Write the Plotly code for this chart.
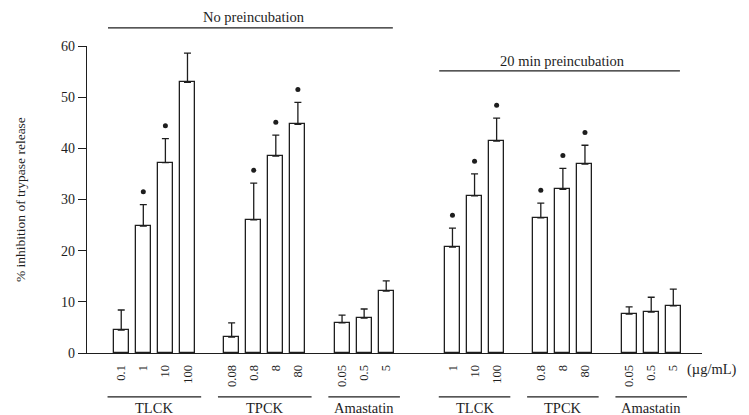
import plotly.graph_objects as go

# ---------------- data ----------------
panel_titles = ["No preincubation", "20 min preincubation"]

# left panel (no preincubation)
L_tlck_doses = ["0.1", "1", "10", "100"]
L_tlck_vals = [4.5, 24.8, 37.2, 52.9]
L_tlck_errs = [3.9, 4.2, 4.7, 5.7]
L_tlck_sig = [False, True, True, True]

L_tpck_doses = ["0.08", "0.8", "8", "80"]
L_tpck_vals = [3.1, 26.0, 38.5, 44.7]
L_tpck_errs = [2.8, 7.2, 4.1, 4.3]
L_tpck_sig = [False, True, True, True]

L_ama_doses = ["0.05", "0.5", "5"]
L_ama_vals = [5.9, 6.8, 12.1]
L_ama_errs = [1.5, 1.8, 2.0]
L_ama_sig = [False, False, False]

# right panel (20 min preincubation)
R_tlck_doses = ["1", "10", "100"]
R_tlck_vals = [20.7, 30.7, 41.4]
R_tlck_errs = [3.7, 4.3, 4.5]
R_tlck_sig = [True, True, True]

R_tpck_doses = ["0.8", "8", "80"]
R_tpck_vals = [26.4, 32.0, 36.9]
R_tpck_errs = [2.9, 4.1, 3.7]
R_tpck_sig = [True, True, True]

R_ama_doses = ["0.05", "0.5", "5"]
R_ama_vals = [7.6, 8.0, 9.2]
R_ama_errs = [1.4, 2.9, 3.3]
R_ama_sig = [False, False, False]

group_names = ["TLCK", "TPCK", "Amastatin"]
unit_label = "(µg/mL)"
y_title = "% inhibition of trypase release"
y_ticks = [0, 10, 20, 30, 40, 50, 60]

panels = [
    [(L_tlck_doses, L_tlck_vals, L_tlck_errs, L_tlck_sig),
     (L_tpck_doses, L_tpck_vals, L_tpck_errs, L_tpck_sig),
     (L_ama_doses, L_ama_vals, L_ama_errs, L_ama_sig)],
    [(R_tlck_doses, R_tlck_vals, R_tlck_errs, R_tlck_sig),
     (R_tpck_doses, R_tpck_vals, R_tpck_errs, R_tpck_sig),
     (R_ama_doses, R_ama_vals, R_ama_errs, R_ama_sig)],
]

# ---------------- layout of slots ----------------
INK = "#1e1e1e"
FONT = "Liberation Serif"
STAR_GAP = 2.5   # data units between error cap and significance dot

xs, vals, errs, labels, sigs = [], [], [], [], []
group_spans = []   # (panel, group index, first x, last x)
panel_spans = []
pos = 0
for p, groups in enumerate(panels):
    if p > 0:
        pos += 2
    p_start = pos
    for g, (d, v, e, s) in enumerate(groups):
        if g > 0:
            pos += 1
        start = pos
        for i in range(len(d)):
            xs.append(pos)
            vals.append(v[i])
            errs.append(e[i])
            labels.append(d[i])
            sigs.append(s[i])
            pos += 1
        group_spans.append((p, g, start, pos - 1))
    panel_spans.append((p_start, pos - 1))

fig = go.Figure()
fig.add_trace(go.Bar(
    x=xs, y=vals, width=0.68,
    marker=dict(color="white", line=dict(color=INK, width=1.3)),
    error_y=dict(type="data", array=errs, arrayminus=[0] * len(errs),
                 symmetric=False, color=INK, thickness=1.3, width=3.5),
    showlegend=False, hoverinfo="skip",
))

sx = [x for x, s in zip(xs, sigs) if s]
sy = [v + e + STAR_GAP for v, e, s in zip(vals, errs, sigs) if s]
fig.add_trace(go.Scatter(
    x=sx, y=sy, mode="markers",
    marker=dict(symbol="circle", size=5, color=INK),
    cliponaxis=False, showlegend=False, hoverinfo="skip",
))

shapes, annotations = [], []
for p, g, a, b in group_spans:
    shapes.append(dict(type="line", xref="x", yref="paper",
                       x0=a - 0.62, x1=b + 0.62, y0=-0.143, y1=-0.143,
                       line=dict(color=INK, width=1.2)))
    annotations.append(dict(x=(a + b) / 2, y=-0.18, xref="x", yref="paper",
                            text=group_names[g], showarrow=False,
                            font=dict(family=FONT, size=14.5, color=INK),
                            xanchor="center", yanchor="middle"))

title_y = [(1.059, 1.094), (0.919, 0.951)]
for p, (a, b) in enumerate(panel_spans):
    ly, ty = title_y[p]
    shapes.append(dict(type="line", xref="x", yref="paper",
                       x0=a - 0.6, x1=b + 0.3, y0=ly, y1=ly,
                       line=dict(color=INK, width=1.2)))
    annotations.append(dict(x=(a + b) / 2, y=ty, xref="x", yref="paper",
                            text=panel_titles[p], showarrow=False,
                            font=dict(family=FONT, size=14.5, color=INK),
                            xanchor="center", yanchor="middle"))

annotations.append(dict(x=1.016, y=-0.055, xref="paper", yref="paper",
                        text=unit_label, showarrow=False,
                        font=dict(family=FONT, size=14.5, color=INK),
                        xanchor="center", yanchor="middle"))
annotations.append(dict(x=-0.108, y=0.5, xref="paper", yref="paper",
                        text=y_title, showarrow=False, textangle=-90,
                        font=dict(family=FONT, size=13.5, color=INK),
                        xanchor="center", yanchor="middle"))

fig.update_layout(
    width=749, height=415,
    margin=dict(l=87, r=47, t=46, b=62),
    paper_bgcolor="white", plot_bgcolor="white",
    font=dict(family=FONT, color=INK),
    shapes=shapes, annotations=annotations,
    bargap=0,
)
fig.update_xaxes(
    range=[-1.55, 26.3], tickvals=xs, ticktext=labels, tickangle=-90,
    showline=True, linecolor=INK, linewidth=1.2, showgrid=False, zeroline=False,
    ticks="outside", ticklen=6, tickcolor="rgba(0,0,0,0)",
    tickfont=dict(family=FONT, size=12.5, color=INK),
)
fig.update_yaxes(
    range=[0, 60], tickvals=y_ticks, showline=True, linecolor=INK, linewidth=1.2,
    showgrid=False, zeroline=False, ticks="outside", ticklen=8, tickcolor=INK,
    tickfont=dict(family=FONT, size=14, color=INK),
)

fig.write_html("out.html", config={"displayModeBar": False},
               post_script="document.body.style.margin='0px';")
